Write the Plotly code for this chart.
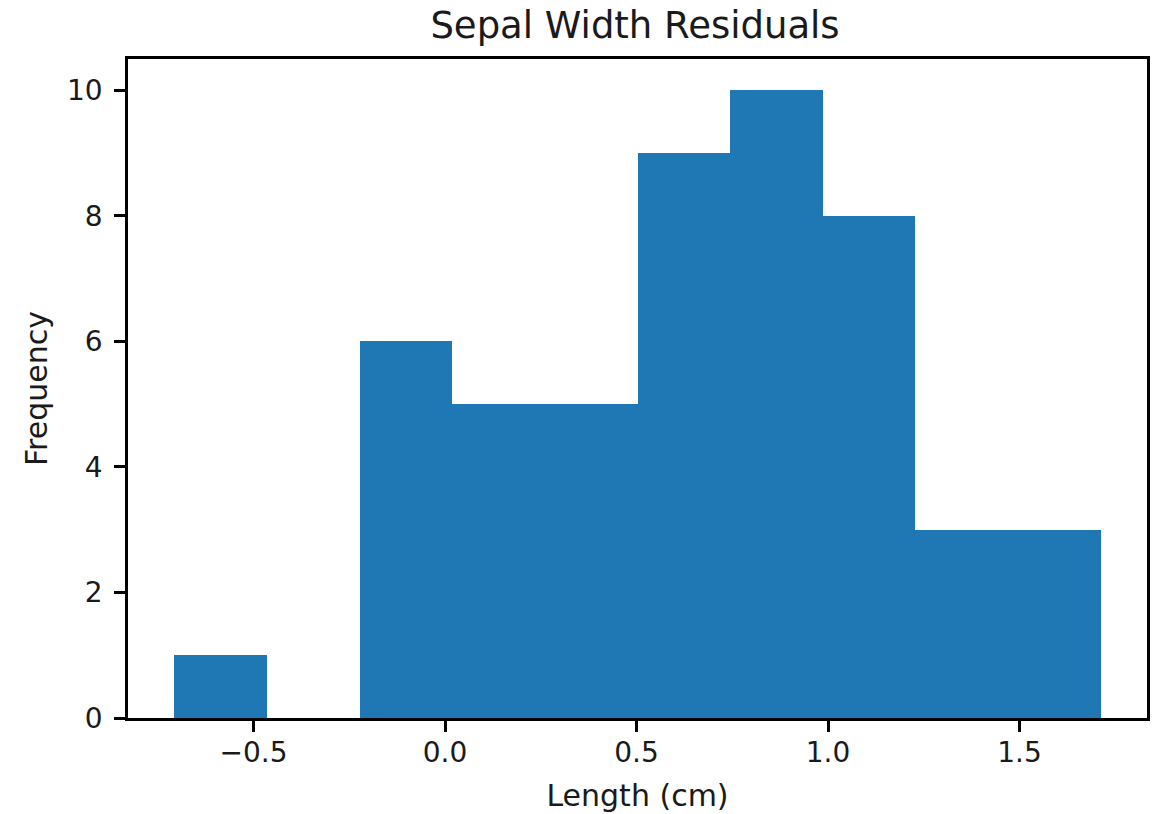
import plotly.graph_objects as go

# Histogram data (bin edges and counts)
bin_edges = [-0.707, -0.465, -0.223, 0.019, 0.261, 0.503, 0.744, 0.986, 1.228, 1.470, 1.712]
counts = [1, 0, 6, 5, 5, 9, 10, 8, 3, 3]

x_tick_vals = [-0.5, 0.0, 0.5, 1.0, 1.5]
x_tick_text = ["\u22120.5", "0.0", "0.5", "1.0", "1.5"]
y_tick_vals = [0, 2, 4, 6, 8, 10]
y_tick_text = ["0", "2", "4", "6", "8", "10"]

title_text = "Sepal Width Residuals"
x_label = "Length (cm)"
y_label = "Frequency"

centers = [(a + b) / 2 for a, b in zip(bin_edges[:-1], bin_edges[1:])]
widths = [b - a for a, b in zip(bin_edges[:-1], bin_edges[1:])]

span = bin_edges[-1] - bin_edges[0]
x_range = [bin_edges[0] - 0.05 * span, bin_edges[-1] + 0.05 * span]
y_range = [0, max(counts) * 1.05]

FONT = "DejaVu Sans"
TXT = "#1a1a1a"

W, H = 1158, 814

fig = go.Figure(
    go.Bar(
        x=centers,
        y=counts,
        width=widths,
        marker=dict(color="#1f77b4", line=dict(width=0)),
        showlegend=False,
        hoverinfo="skip",
    )
)

axis_common = dict(
    showline=True,
    mirror=True,
    linecolor="#000000",
    linewidth=2.5,
    ticks="outside",
    ticklen=11,
    tickwidth=2.5,
    tickcolor="#000000",
    showgrid=False,
    zeroline=False,
    automargin=False,
    tickfont=dict(family=FONT, size=28, color=TXT),
)

fig.update_layout(
    width=W,
    height=H,
    margin=dict(l=128, r=11, t=59, b=96),
    paper_bgcolor="white",
    plot_bgcolor="white",
    bargap=0,
    title=dict(
        text=title_text,
        font=dict(family=FONT, size=37, color=TXT),
        x=635 / W,
        xanchor="center",
        y=1 - 25 / H,
        yanchor="middle",
    ),
    xaxis=dict(
        range=x_range,
        tickvals=x_tick_vals,
        ticktext=x_tick_text,
        ticklabelstandoff=-3,
        title=dict(text=x_label, font=dict(family=FONT, size=30, color=TXT), standoff=17),
        **axis_common,
    ),
    yaxis=dict(
        range=y_range,
        tickvals=y_tick_vals,
        ticktext=y_tick_text,
        ticklabelstandoff=6,
        title=dict(text=y_label, font=dict(family=FONT, size=30, color=TXT), standoff=11),
        **axis_common,
    ),
)

fig.write_html(
    "out.html",
    config={"displayModeBar": False},
    post_script="document.body.style.margin='0';document.body.style.overflow='hidden';",
)
